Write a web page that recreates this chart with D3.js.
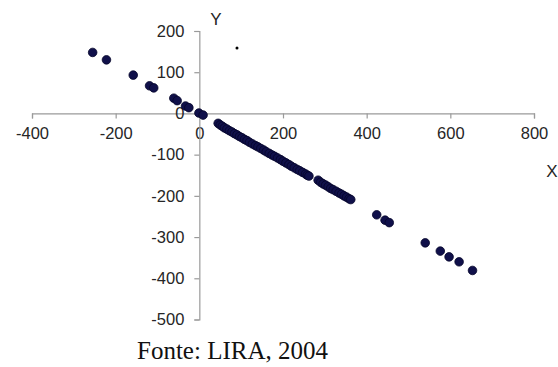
<!DOCTYPE html>
<html>
<head>
<meta charset="utf-8">
<script src="https://cdn.jsdelivr.net/npm/d3@7"></script>
<style>
html,body{margin:0;padding:0;background:#fff;}
svg{display:block;}
</style>
</head>
<body>
<svg id="chart" width="558" height="367"></svg>
<script>
// Data
const xTicks = [-400, -200, 0, 200, 400, 600, 800];
const yTicks = [200, 100, 0, -100, -200, -300, -400, -500];
const pointsX = [-255, -222, -158, -119, -109, -61, -53, -33, -25, -1, 9,
  45, 50, 55, 60, 66, 72, 78, 84, 90, 96, 102, 108, 114, 120, 127, 134, 140, 147, 154, 160, 167, 174, 180, 187, 194, 200, 207, 214, 220, 227, 234, 240, 247, 254, 258, 262,
  284, 290, 296, 302, 308, 314, 320, 327, 334, 340, 346, 352, 358, 362,
  424, 444, 454,
  540, 576, 597, 621, 653];
const pointsY = [148, 130, 93, 67, 62, 37, 31, 18, 14, 1, -4,
  -24, -28, -31, -35, -38, -42, -45, -49, -52, -56, -59, -63, -66, -70, -74, -78, -81, -85, -89, -93, -97, -101, -104, -108, -112, -116, -120, -124, -128, -132, -136, -139, -143, -147, -150, -152,
  -162, -167, -171, -174, -178, -182, -185, -189, -193, -196, -200, -203, -207, -209,
  -246, -259, -265,
  -314, -334, -348, -360, -381];
const strayX = [90];
const strayY = [159];
const sourceText = "Fonte: LIRA, 2004";

const svg = d3.select("#chart");
const x = d3.scaleLinear().domain([-400, 800]).range([32, 534]);
const y = d3.scaleLinear().domain([-500, 200]).range([319.5, 31]);

const axisColor = "#9a9a9a";
const labelColor = "#262626";
const font = "'Liberation Sans', Arial, sans-serif";
const fmt = d => String(d); // plain hyphen-minus as in the reference

// X axis (crossing at y=0)
const gx = svg.append("g").attr("transform", `translate(0,${y(0)})`)
  .call(d3.axisBottom(x).tickValues(xTicks).tickSize(5).tickPadding(9).tickFormat(fmt));
gx.select(".domain").attr("stroke", axisColor).attr("stroke-width", 1.2);
gx.selectAll(".tick line").attr("stroke", axisColor).attr("stroke-width", 1.2);
gx.selectAll(".tick text").attr("fill", labelColor).style("font-family", font).style("font-size", "16.5px");

// Y axis (crossing at x=0)
const gy = svg.append("g").attr("transform", `translate(${x(0)},0)`)
  .call(d3.axisLeft(y).tickValues(yTicks).tickSize(5).tickPadding(10).tickFormat(fmt));
gy.select(".domain").attr("stroke", axisColor).attr("stroke-width", 1.2);
gy.selectAll(".tick line").attr("stroke", axisColor).attr("stroke-width", 1.2);
gy.selectAll(".tick text").attr("fill", labelColor).style("font-family", font).style("font-size", "16.5px");

// Axis titles
svg.append("text").attr("x", 216).attr("y", 25).attr("text-anchor", "middle")
  .attr("fill", labelColor).style("font-family", font).style("font-size", "17px").text("Y");
svg.append("text").attr("x", 552).attr("y", 177).attr("text-anchor", "middle")
  .attr("fill", labelColor).style("font-family", font).style("font-size", "17px").text("X");

// Points
const pts = pointsX.map((v, i) => ({x: v, y: pointsY[i]}));
svg.append("g").selectAll("circle").data(pts).join("circle")
  .attr("cx", d => x(d.x)).attr("cy", d => y(d.y)).attr("r", 4.3)
  .attr("fill", "#10104a").attr("stroke", "#05052a").attr("stroke-width", 0.8);

const stray = strayX.map((v, i) => ({x: v, y: strayY[i]}));
svg.append("g").selectAll("circle").data(stray).join("circle")
  .attr("cx", d => x(d.x)).attr("cy", d => y(d.y)).attr("r", 1.5).attr("fill", "#000");

// Source
svg.append("text").attr("x", 137).attr("y", 359)
  .attr("fill", "#111").style("font-family", "'Liberation Serif', 'Times New Roman', serif")
  .style("font-size", "25px").text(sourceText);
</script>
</body>
</html>
